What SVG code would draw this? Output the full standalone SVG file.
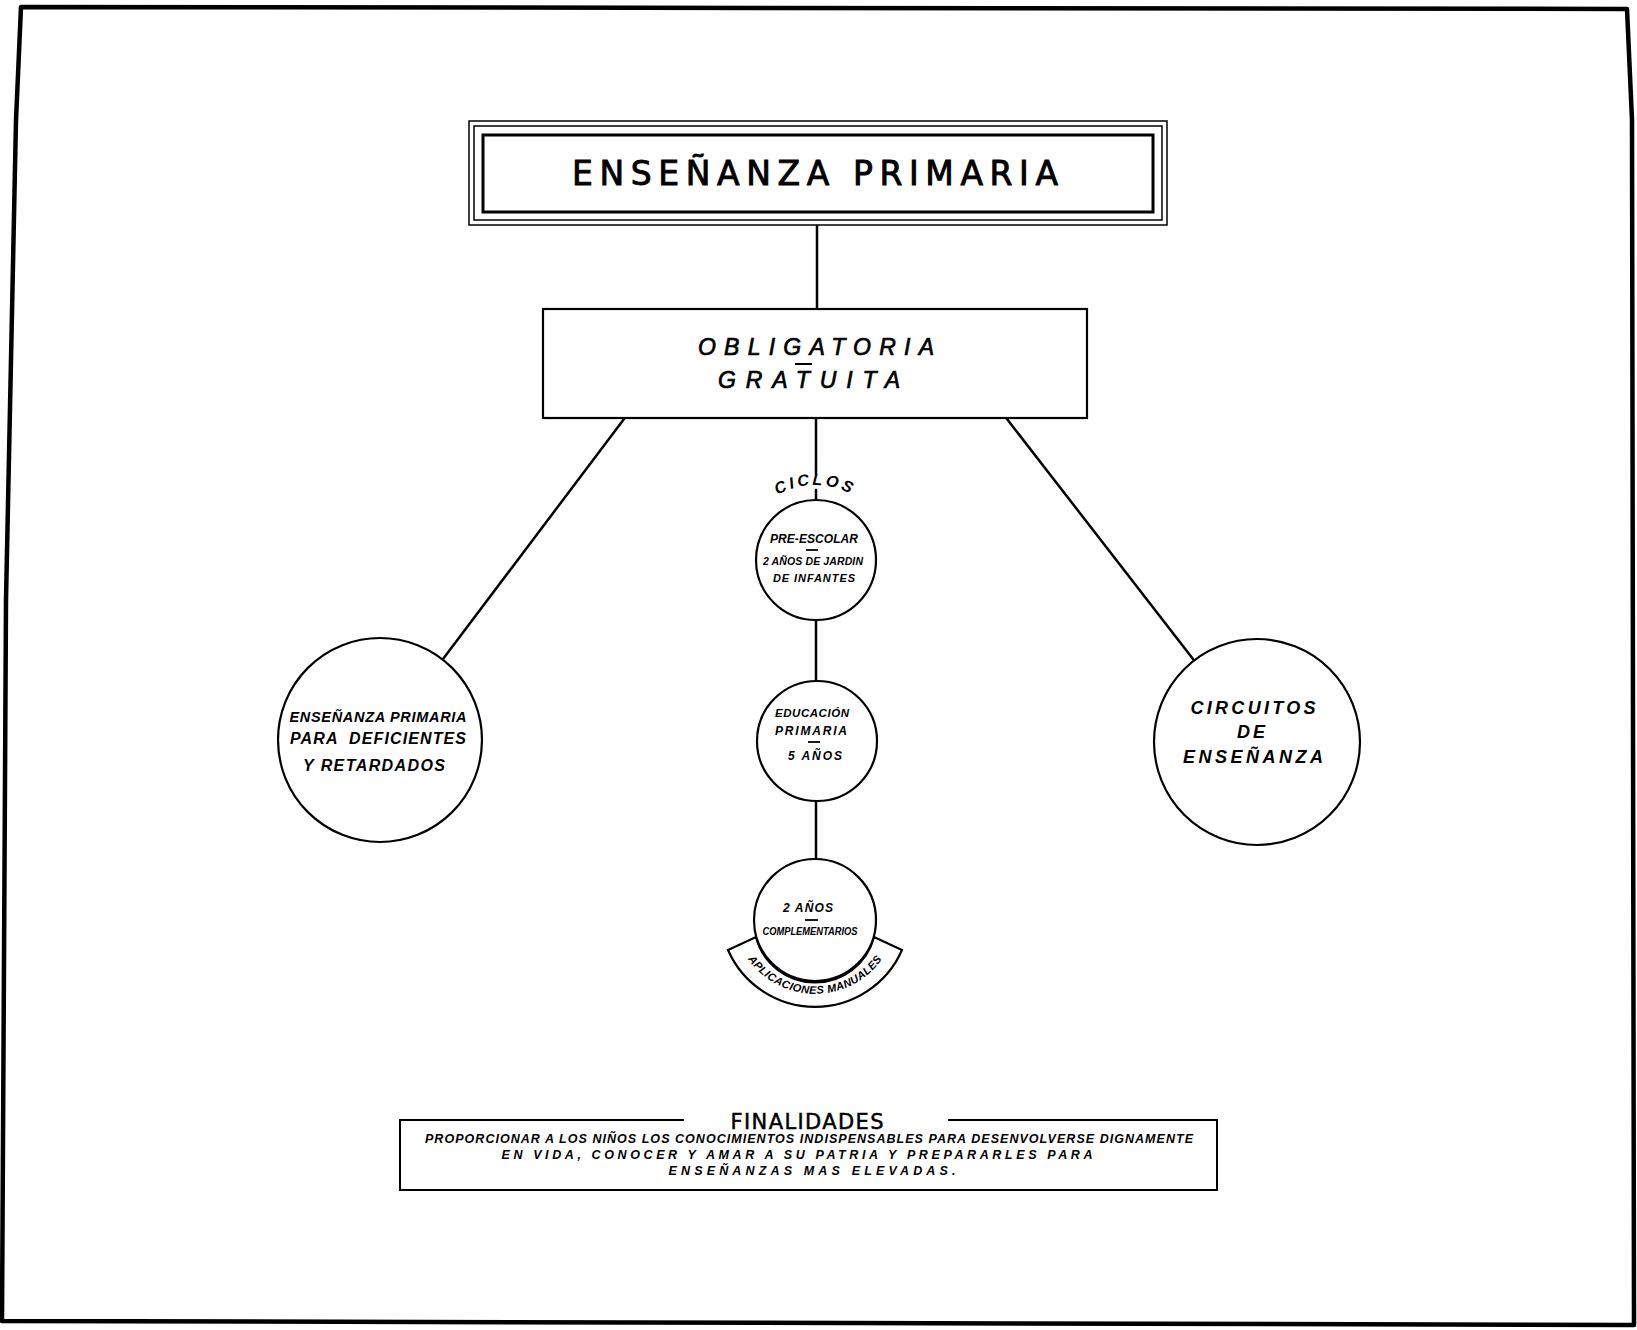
<svg xmlns="http://www.w3.org/2000/svg" width="1637" height="1330" viewBox="0 0 1637 1330">
<style>
.ln{stroke:#000;stroke-width:2.5;fill:none;stroke-linecap:round}
.nd{stroke:#000;stroke-width:2.2;fill:#fff}
.hw{font-family:"Liberation Sans",Arial,sans-serif;font-style:italic;font-weight:bold;fill:#000}
.hm{font-family:"Liberation Sans",Arial,sans-serif;font-style:italic;font-weight:normal;fill:#000;stroke:#000;stroke-width:0.7}
.tt{font-family:"DejaVu Sans","Liberation Sans",sans-serif;fill:#000}
</style>
<defs>
<path id="arcCiclos" d="M 740,560 A 75 75 0 0 1 890,560"/>
<path id="arcApl" d="M 738,940 A 82 82 0 0 0 892,940"/>
</defs>
<rect width="1637" height="1330" fill="#fff"/>
<path d="M 21,7 L 1627,9 L 1632,120 L 1634,1325 L 2,1321 L 6,600 L 16,120 Z" fill="none" stroke="#000" stroke-width="4.5" stroke-linejoin="round"/>

<g id="connectors">
<line class="ln" x1="817" y1="225" x2="817" y2="309"/>
<line class="ln" x1="624" y1="419" x2="443" y2="659"/>
<line class="ln" x1="1007" y1="419" x2="1193" y2="659"/>
<line class="ln" x1="816" y1="418" x2="816" y2="474"/>
<line class="ln" x1="816" y1="490" x2="816" y2="500"/>
<line class="ln" x1="816" y1="620" x2="816" y2="681"/>
<line class="ln" x1="816" y1="801" x2="816" y2="859"/>
</g>

<g id="title">
<rect x="469" y="121" width="698" height="104" fill="#fff" stroke="#000" stroke-width="1.5"/>
<rect x="474" y="126" width="688" height="94" fill="none" stroke="#000" stroke-width="1.5"/>
<rect x="483" y="135" width="670" height="77" fill="none" stroke="#000" stroke-width="3"/>
<text class="tt" x="815" y="185" font-size="33" text-anchor="middle" textLength="486" lengthAdjust="spacing" stroke="#000" stroke-width="0.9">ENSEÑANZA PRIMARIA</text>
</g>

<g id="obligatoria">
<rect class="nd" x="543" y="309" width="544" height="109" stroke-width="2.6"/>
<text class="hm" x="816" y="355" font-size="23" text-anchor="middle" textLength="236" lengthAdjust="spacing">OBLIGATORIA</text>
<line x1="795" y1="364" x2="812" y2="364" stroke="#000" stroke-width="2"/>
<text class="hm" x="809" y="388" font-size="23" text-anchor="middle" textLength="182" lengthAdjust="spacing">GRATUITA</text>
</g>

<g id="ciclos">
<text class="hw" font-size="16" font-style="normal" letter-spacing="3"><textPath href="#arcCiclos" startOffset="50%" text-anchor="middle">CICLOS</textPath></text>
</g>

<g id="preescolar">
<circle class="nd" cx="816" cy="560" r="60"/>
<text class="hw" x="814" y="543" font-size="12" text-anchor="middle" textLength="88" lengthAdjust="spacing">PRE-ESCOLAR</text>
<line x1="806" y1="550" x2="818" y2="550" stroke="#000" stroke-width="1.8"/>
<text class="hw" x="813" y="565" font-size="10.5" text-anchor="middle" textLength="100" lengthAdjust="spacing">2 AÑOS DE JARDIN</text>
<text class="hw" x="814" y="582" font-size="11" text-anchor="middle" textLength="82" lengthAdjust="spacing">DE INFANTES</text>
</g>

<g id="educacion">
<circle class="nd" cx="817" cy="741" r="60"/>
<text class="hw" x="812" y="717" font-size="11.5" text-anchor="middle" textLength="74" lengthAdjust="spacing">EDUCACIÓN</text>
<text class="hw" x="811" y="735" font-size="12" text-anchor="middle" textLength="72" lengthAdjust="spacing">PRIMARIA</text>
<line x1="808" y1="742" x2="820" y2="742" stroke="#000" stroke-width="1.8"/>
<text class="hw" x="815" y="760" font-size="12" text-anchor="middle" textLength="54" lengthAdjust="spacing">5 AÑOS</text>
</g>

<g id="complementarios">
<path class="nd" d="M 728,950 A 95 95 0 0 0 902,950 L 874,937 A 61 61 0 0 1 756,937 Z"/>
<circle class="nd" cx="815" cy="920" r="61"/>
<text class="hw" x="808" y="912" font-size="12" text-anchor="middle" textLength="50" lengthAdjust="spacing">2 AÑOS</text>
<line x1="805" y1="920" x2="818" y2="920" stroke="#000" stroke-width="1.8"/>
<text class="hw" x="810" y="935" font-size="10.5" text-anchor="middle" textLength="95" lengthAdjust="spacingAndGlyphs">COMPLEMENTARIOS</text>
<text class="hw" font-size="11" font-style="normal" letter-spacing="0.4"><textPath href="#arcApl" startOffset="50%" text-anchor="middle">APLICACIONES MANUALES</textPath></text>
</g>

<g id="deficientes">
<circle class="nd" cx="380" cy="740" r="102"/>
<text class="hw" x="378" y="722" font-size="14.5" text-anchor="middle" textLength="177" lengthAdjust="spacing">ENSEÑANZA PRIMARIA</text>
<text class="hw" x="378" y="744" font-size="16" text-anchor="middle" textLength="176" lengthAdjust="spacing" xml:space="preserve">PARA  DEFICIENTES</text>
<text class="hw" x="374" y="771" font-size="16" text-anchor="middle" textLength="142" lengthAdjust="spacing">Y RETARDADOS</text>
</g>

<g id="circuitos">
<circle class="nd" cx="1257" cy="742" r="103"/>
<text class="hw" x="1253" y="714" font-size="18" text-anchor="middle" textLength="125" lengthAdjust="spacing">CIRCUITOS</text>
<text class="hw" x="1251" y="738" font-size="18" text-anchor="middle" textLength="28" lengthAdjust="spacing">DE</text>
<text class="hw" x="1253" y="763" font-size="18" text-anchor="middle" textLength="140" lengthAdjust="spacing">ENSEÑANZA</text>
</g>

<g id="finalidades">
<path d="M 684,1120 L 400,1120 L 400,1190 L 1217,1190 L 1217,1120 L 948,1120" fill="none" stroke="#000" stroke-width="2"/>
<text class="tt" x="807" y="1129" font-size="21" text-anchor="middle" textLength="153" lengthAdjust="spacing" stroke="#000" stroke-width="0.5">FINALIDADES</text>
<text class="hw" x="809" y="1143" font-size="12.5" text-anchor="middle" textLength="768" lengthAdjust="spacing">PROPORCIONAR A LOS NIÑOS LOS CONOCIMIENTOS INDISPENSABLES PARA DESENVOLVERSE DIGNAMENTE</text>
<text class="hw" x="797" y="1159" font-size="12.5" text-anchor="middle" textLength="591" lengthAdjust="spacing">EN VIDA, CONOCER Y AMAR A SU PATRIA Y PREPARARLES PARA</text>
<text class="hw" x="812" y="1175" font-size="12.5" text-anchor="middle" textLength="287" lengthAdjust="spacing">ENSEÑANZAS MAS ELEVADAS.</text>
</g>
</svg>
